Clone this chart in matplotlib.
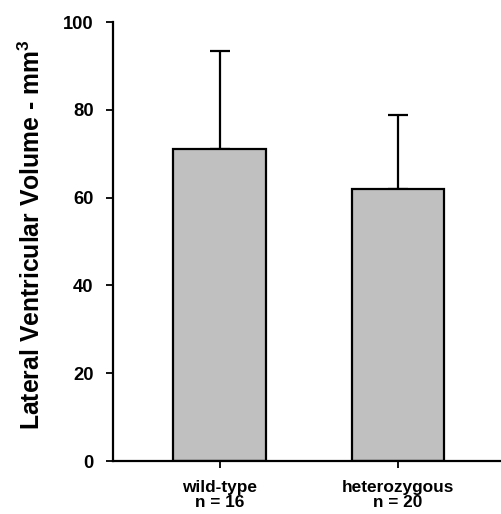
import matplotlib.pyplot as plt
from matplotlib import font_manager

# keep the narrow variant out of the font lookup
font_manager.fontManager.ttflist = [
    f for f in font_manager.fontManager.ttflist if "narrow" not in f.fname.lower()
]

plt.rcParams["font.family"] = ["Liberation Sans", "DejaVu Sans"]
plt.rcParams["font.weight"] = "bold"
plt.rcParams["mathtext.fontset"] = "custom"
plt.rcParams["mathtext.bf"] = "Liberation Sans:bold"

groups = ["wild-type\nn = 16", "heterozygous\nn = 20"]
means = [71.1, 62.0]
errors = [22.3, 16.8]
y_ticks = [0, 20, 40, 60, 80, 100]


def main() -> None:
    fig = plt.figure(figsize=(5.02, 5.14), dpi=100)
    ax = fig.add_axes([0.225, 0.103, 0.775, 0.854])
    x = range(len(groups))
    ax.bar(x, means, width=0.52, color="#c0c0c0", edgecolor="black", linewidth=1.6, zorder=2)
    ax.errorbar(x, means, yerr=[[0] * len(errors), errors], fmt="none", ecolor="black",
                elinewidth=1.6, capsize=7, capthick=1.6, zorder=1)
    ax.set_xlim(-0.6, 1.585)
    ax.set_ylim(0, 100)
    ax.set_yticks(y_ticks)
    ax.set_xticks(list(x), groups, fontsize=12.4, fontweight="bold", linespacing=0.98)
    ax.tick_params(axis="y", labelsize=13.2, width=1.3, length=5, direction="out", pad=9)
    ax.tick_params(axis="x", width=1.3, length=5, direction="out", pad=8.5)
    for lbl in ax.get_yticklabels():
        lbl.set_fontweight("bold")
    ax.spines["top"].set_visible(False)
    ax.spines["right"].set_visible(False)
    ax.spines["left"].set_linewidth(1.6)
    ax.spines["bottom"].set_linewidth(1.6)
    ax.set_ylabel("Lateral Ventricular Volume - mm$^\\mathbf{3}$", fontsize=17.8,
                  fontweight="bold", labelpad=13)
    ax.yaxis.label.set_y(0.516)
    fig.savefig("out.png", dpi=100)
    plt.close(fig)


if __name__ == "__main__":
    main()
